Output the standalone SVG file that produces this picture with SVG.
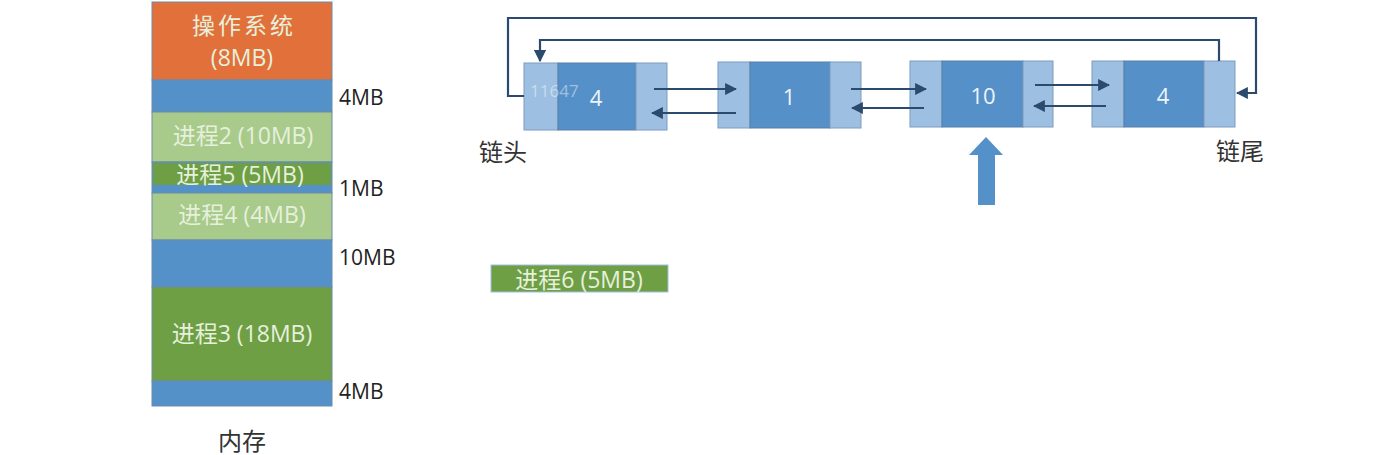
<svg xmlns="http://www.w3.org/2000/svg" width="1390" height="455" viewBox="0 0 1390 455">
<defs>
<style>
.t{font-family:"Open Sans","Noto Sans CJK SC",sans-serif;}
.in{font-size:23px;fill:#E6F0DC;text-anchor:middle;dominant-baseline:central;}
.lbl{font-size:21px;fill:#222;dominant-baseline:central;}
.cap{font-size:24px;fill:#333;text-anchor:middle;dominant-baseline:central;}
.blk{stroke:#6A8BAA;stroke-width:1;}
.side{fill:#9DC0E2;stroke:#7C9CC0;stroke-width:1;}
.mid{fill:#5590C8;stroke:#5A7FA8;stroke-width:1;}
.num{font-size:22px;fill:#EEF4FA;text-anchor:middle;dominant-baseline:central;}
.ln{fill:none;stroke:#2C4A6E;stroke-width:2.2;}
</style>
<marker id="ah" viewBox="0 0 10 10" refX="9" refY="5" markerWidth="5.5" markerHeight="5.5" orient="auto" markerUnits="strokeWidth"><path d="M0,0 L10,5 L0,10 z" fill="#2C4A6E"/></marker>
</defs>
<rect width="1390" height="455" fill="#fff"/>
<g id="memory">
<rect class="blk" x="152" y="2" width="180" height="78" fill="#E2703A"/>
<text class="t in" x="244" y="25" letter-spacing="3">操作系统</text>
<text class="t in" x="242" y="57">(8MB)</text>
<rect class="blk" x="152" y="80" width="180" height="32" fill="#5591C9"/>
<rect class="blk" x="152" y="112" width="180" height="50" fill="#A8CA8A"/>
<text class="t in" x="243" y="135">进程2 (10MB)</text>
<rect class="blk" x="152" y="162" width="180" height="31" fill="#5591C9"/>
<rect x="153" y="163" width="178" height="22" fill="#6E9F45"/>
<text class="t in" x="240" y="174">进程5 (5MB)</text>
<rect class="blk" x="152" y="193" width="180" height="47" fill="#A8CA8A"/>
<text class="t in" x="242" y="214">进程4 (4MB)</text>
<rect class="blk" x="152" y="240" width="180" height="47" fill="#5591C9"/>
<rect class="blk" x="152" y="287" width="180" height="94" fill="#6E9F45"/>
<text class="t in" x="242" y="333">进程3 (18MB)</text>
<rect class="blk" x="152" y="381" width="180" height="25" fill="#5591C9"/>
<text class="t lbl" x="339" y="97">4MB</text>
<text class="t lbl" x="339" y="188">1MB</text>
<text class="t lbl" x="339" y="257">10MB</text>
<text class="t lbl" x="339" y="391">4MB</text>
<text class="t cap" x="242" y="440">内存</text>
</g>
<g id="node1">
<rect class="side" x="524" y="63" width="34" height="67"/>
<rect class="mid" x="558" y="63" width="78" height="67"/>
<rect class="side" x="636" y="63" width="31" height="67"/>
<text class="t num" x="596" y="97">4</text>
</g>
<g id="node2">
<rect class="side" x="718" y="62" width="32" height="66"/>
<rect class="mid" x="750" y="62" width="80" height="66"/>
<rect class="side" x="830" y="62" width="31" height="66"/>
<text class="t num" x="789" y="96">1</text>
</g>
<g id="node3">
<rect class="side" x="910" y="61" width="32" height="66"/>
<rect class="mid" x="942" y="61" width="81" height="66"/>
<rect class="side" x="1023" y="61" width="30" height="66"/>
<text class="t num" x="983" y="95">10</text>
</g>
<g id="node4">
<rect class="side" x="1092" y="61" width="32" height="66"/>
<rect class="mid" x="1124" y="61" width="80" height="66"/>
<rect class="side" x="1204" y="61" width="31" height="66"/>
<text class="t num" x="1163" y="95">4</text>
</g>
<text class="t" x="530" y="97" font-size="17" fill="#FFFFFF" fill-opacity="0.45">11647</text>
<g id="connectors">
<line class="ln" x1="654" y1="89" x2="736" y2="89" marker-end="url(#ah)"/>
<line class="ln" x1="736" y1="113" x2="652" y2="113" marker-end="url(#ah)"/>
<line class="ln" x1="851" y1="89" x2="926" y2="89" marker-end="url(#ah)"/>
<line class="ln" x1="924" y1="108" x2="852" y2="108" marker-end="url(#ah)"/>
<line class="ln" x1="1035" y1="85" x2="1109" y2="85" marker-end="url(#ah)"/>
<line class="ln" x1="1106" y1="106" x2="1034" y2="106" marker-end="url(#ah)"/>
<polyline class="ln" points="524,96 508,96 508,18 1256,18 1256,93 1237,93" marker-end="url(#ah)"/>
<polyline class="ln" points="1219,61 1219,40 540,40 540,61" marker-end="url(#ah)"/>
</g>
<g id="pointer">
<polygon points="986,137 1003,155 995,155 995,205 978,205 978,155 969,155" fill="#5591C9"/>
</g>
<text class="t cap" x="503" y="151">链头</text>
<text class="t cap" x="1240" y="150">链尾</text>
<g id="proc6">
<rect x="491" y="265" width="177" height="27" fill="#6E9F45" stroke="#9DC0E2" stroke-width="1"/>
<text class="t in" x="579" y="279">进程6 (5MB)</text>
</g>
</svg>
